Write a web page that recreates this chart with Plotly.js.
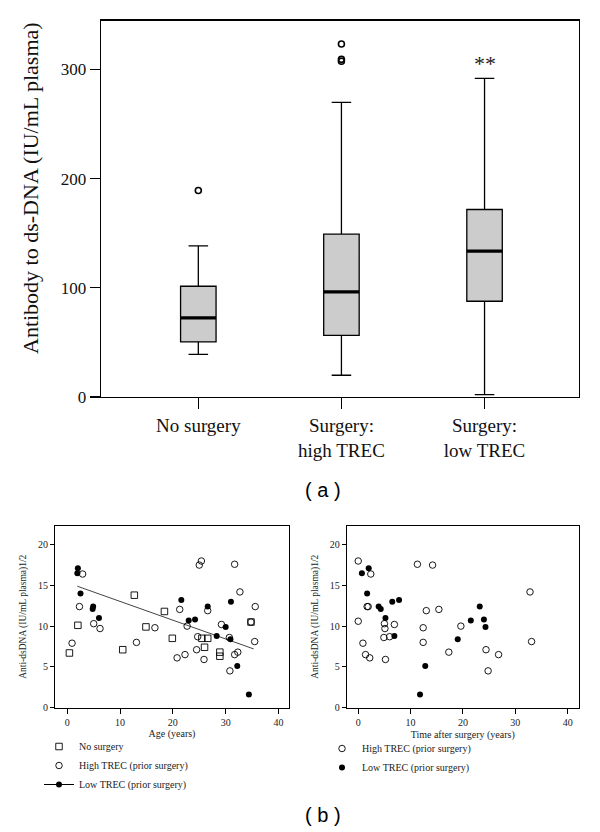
<!DOCTYPE html>
<html>
<head>
<meta charset="utf-8">
<script src="https://cdn.plot.ly/plotly-3.0.1.min.js"></script>
<style>html,body{margin:0;padding:0;background:#fff;}#chart{width:600px;height:832px;}</style>
</head>
<body>
<div id="chart"></div>
<script>
// ---------- Panel (a): box plot ----------
var groups = ['No surgery', 'Surgery:<br>high TREC', 'Surgery:<br>low TREC'];
var groupPos = [0, 1, 2];
var boxQ1 = [50.4, 56.5, 87.7];
var boxMedian = [72.4, 96.2, 133.5];
var boxQ3 = [101.4, 149.1, 171.7];
var boxLowerFence = [39.1, 19.9, 2.1];
var boxUpperFence = [138.4, 269.8, 291.8];
var outlierPos = [0, 1, 1, 1];
var outlierVal = [189.1, 323.2, 309.2, 307.4];
var boxTicks = [0, 100, 200, 300];

// ---------- Panel (b): scatter plots ----------
var ageNoSurgery = [0.4, 2.0, 10.5, 12.7, 14.9, 18.4, 19.9, 25.5, 26.6, 26.0, 28.9, 28.9, 34.8];
var dnaNoSurgery = [6.7, 10.1, 7.1, 13.8, 9.9, 11.8, 8.5, 8.5, 8.5, 7.4, 6.8, 6.3, 10.5];

var ageHigh = [2.9, 2.3, 0.9, 5.0, 6.2, 13.1, 16.6, 21.3, 20.8, 22.3, 22.7, 24.5, 24.7, 25.0, 25.4, 25.9, 26.6, 29.2, 30.7, 30.8, 31.7, 31.7, 32.3, 32.7, 34.8, 35.6, 35.5];
var dnaHighByAge = [16.4, 12.4, 7.9, 10.3, 9.7, 8.0, 9.8, 12.05, 6.1, 6.5, 10.0, 7.1, 8.7, 17.5, 18.0, 5.9, 11.9, 10.2, 8.6, 4.5, 6.5, 17.6, 6.8, 14.2, 10.5, 12.4, 8.1];

var timeHigh = [0.0, 0.0, 0.9, 1.4, 1.7, 1.9, 2.2, 2.4, 5.0, 5.1, 4.9, 5.2, 6.0, 6.9, 11.3, 12.4, 12.4, 13.0, 14.2, 15.4, 17.3, 19.6, 24.4, 24.8, 26.8, 32.8, 33.1];
var dnaHighByTime = [18.0, 10.6, 7.9, 6.5, 12.4, 12.4, 6.1, 16.4, 10.3, 9.7, 8.6, 5.9, 8.7, 10.2, 17.6, 9.8, 8.0, 11.9, 17.5, 12.05, 6.8, 10.0, 7.1, 4.5, 6.5, 14.2, 8.1];

var ageLow = [2.0, 1.9, 2.5, 4.9, 4.8, 6.0, 21.6, 23.0, 24.2, 26.6, 28.3, 30.0, 31.0, 30.9, 32.2, 34.4];
var timeLow = [2.0, 0.7, 1.7, 3.9, 4.3, 5.2, 7.8, 21.5, 24.0, 23.2, 6.9, 24.3, 6.5, 19.0, 12.8, 11.8];
var dnaLow = [17.1, 16.5, 14.0, 12.4, 12.1, 11.0, 13.2, 10.7, 10.8, 12.4, 8.8, 9.9, 13.0, 8.4, 5.1, 1.6];

var fitAge = [1.9, 35.3];
var fitDna = [14.9, 7.2];

var scatterTicksX = [0, 10, 20, 30, 40];
var scatterTicksY = [0, 5, 10, 15, 20];

// ---------- build ----------
var SERIF = 'Liberation Serif, Times New Roman, serif';
var SANS = 'Liberation Sans, Arial, sans-serif';
var boxWidth = 0.248;

var medX = [], medY = [];
groupPos.forEach(function (p, i) {
  medX.push(p - boxWidth / 2, p + boxWidth / 2, null);
  medY.push(boxMedian[i], boxMedian[i], null);
});

// interleave nulls so the legend shows a line through the marker but no segments are drawn
function gapped(arr) { var o = []; arr.forEach(function (v) { o.push(v, null); }); return o; }

var openMarker = function (sym) {
  return {symbol: sym, size: 6.5, color: '#000', line: {width: 0.9, color: '#000'}};
};

var traces = [
  {
    type: 'box', x: groupPos, q1: boxQ1, median: boxMedian, q3: boxQ3,
    lowerfence: boxLowerFence, upperfence: boxUpperFence,
    width: boxWidth, whiskerwidth: 0.55, boxpoints: false,
    fillcolor: '#cccccc', line: {color: '#000', width: 1.3},
    xaxis: 'x', yaxis: 'y', showlegend: false, hoverinfo: 'skip'
  },
  {
    type: 'scatter', mode: 'lines', x: medX, y: medY,
    line: {color: '#000', width: 3.2}, xaxis: 'x', yaxis: 'y', showlegend: false, hoverinfo: 'skip'
  },
  {
    type: 'scatter', mode: 'markers', x: outlierPos, y: outlierVal,
    marker: {symbol: 'circle-open', size: 6, color: '#000', line: {width: 1.6, color: '#000'}},
    xaxis: 'x', yaxis: 'y', showlegend: false, hoverinfo: 'skip'
  },
  // left scatter: age
  {
    type: 'scatter', mode: 'lines', x: fitAge, y: fitDna,
    line: {color: '#444', width: 1}, xaxis: 'x2', yaxis: 'y2', showlegend: false, hoverinfo: 'skip'
  },
  {
    type: 'scatter', mode: 'markers', name: 'No surgery', x: ageNoSurgery, y: dnaNoSurgery,
    marker: openMarker('square-open'), xaxis: 'x2', yaxis: 'y2', legend: 'legend'
  },
  {
    type: 'scatter', mode: 'markers', name: 'High TREC (prior surgery)', x: ageHigh, y: dnaHighByAge,
    marker: openMarker('circle-open'), xaxis: 'x2', yaxis: 'y2', legend: 'legend'
  },
  {
    type: 'scatter', mode: 'lines+markers', name: 'Low TREC (prior surgery)', x: gapped(ageLow), y: gapped(dnaLow),
    connectgaps: false, line: {color: '#000', width: 1},
    marker: {symbol: 'circle', size: 6, color: '#000'},
    xaxis: 'x2', yaxis: 'y2', legend: 'legend'
  },
  // right scatter: time after surgery
  {
    type: 'scatter', mode: 'markers', name: 'High TREC (prior surgery)', x: timeHigh, y: dnaHighByTime,
    marker: openMarker('circle-open'), xaxis: 'x3', yaxis: 'y3', legend: 'legend2'
  },
  {
    type: 'scatter', mode: 'markers', name: 'Low TREC (prior surgery)', x: timeLow, y: dnaLow,
    marker: {symbol: 'circle', size: 6, color: '#000'},
    xaxis: 'x3', yaxis: 'y3', legend: 'legend2'
  }
];

function frameAxis(extra) {
  var a = {
    showline: true, mirror: true, linecolor: '#000', linewidth: 1,
    showgrid: false, zeroline: false, ticks: 'outside', tickcolor: '#000',
    tickfont: {family: SERIF, size: 10, color: '#222'}, fixedrange: true
  };
  for (var k in extra) a[k] = extra[k];
  return a;
}

var scatterYTitle = 'Anti-dsDNA (IU/mL plasma)1/2';

var layout = {
  width: 600, height: 832,
  margin: {l: 0, r: 0, t: 0, b: 0},
  paper_bgcolor: '#fff', plot_bgcolor: '#fff',
  font: {family: SERIF, color: '#000'},
  xaxis: frameAxis({
    anchor: 'y',
    domain: [101 / 600, 579 / 600], range: [-0.68, 2.66],
    tickmode: 'array', tickvals: groupPos, ticktext: groups,
    ticklen: 11, tickwidth: 1.3, linewidth: 1.3,
    tickfont: {family: SERIF, size: 19, color: '#111'}
  }),
  yaxis: frameAxis({
    anchor: 'x',
    domain: [1 - 397 / 832, 1 - 20.7 / 832], range: [0, 344.6],
    tickmode: 'array', tickvals: boxTicks,
    ticklen: 10, tickwidth: 1.3, linewidth: 1.3,
    tickfont: {family: SERIF, size: 17, color: '#111'}
  }),
  xaxis2: frameAxis({
    anchor: 'y2',
    domain: [55 / 600, 289 / 600], range: [-2.33, 42],
    tickmode: 'array', tickvals: scatterTicksX, ticklen: 5,
    title: {text: 'Age (years)', font: {family: SERIF, size: 10, color: '#222'}, standoff: 3}
  }),
  yaxis2: frameAxis({
    anchor: 'x2',
    domain: [1 - 707.5 / 832, 1 - 526 / 832], range: [0, 22.3],
    tickmode: 'array', tickvals: scatterTicksY, ticklen: 4,
    title: {text: scatterYTitle, font: {family: SERIF, size: 9.5, color: '#222'}, standoff: 9}
  }),
  xaxis3: frameAxis({
    anchor: 'y3',
    domain: [346.7 / 600, 578.7 / 600], range: [-2.2, 42.1],
    tickmode: 'array', tickvals: scatterTicksX, ticklen: 5,
    title: {text: 'Time after surgery (years)', font: {family: SERIF, size: 10, color: '#222'}, standoff: 4}
  }),
  yaxis3: frameAxis({
    anchor: 'x3',
    domain: [1 - 707.5 / 832, 1 - 526 / 832], range: [0, 22.3],
    tickmode: 'array', tickvals: scatterTicksY, ticklen: 4,
    title: {text: scatterYTitle, font: {family: SERIF, size: 9.5, color: '#222'}, standoff: 9}
  }),
  legend: {
    x: 39 / 600, xanchor: 'left', y: 1 - 732 / 832, yanchor: 'top',
    bgcolor: 'rgba(0,0,0,0)', borderwidth: 0, itemwidth: 30,
    font: {family: SERIF, size: 10, color: '#222'}, tracegroupgap: 0
  },
  legend2: {
    x: 322 / 600, xanchor: 'left', y: 1 - 734 / 832, yanchor: 'top',
    bgcolor: 'rgba(0,0,0,0)', borderwidth: 0, itemwidth: 30,
    font: {family: SERIF, size: 10, color: '#222'}, tracegroupgap: 0
  },
  annotations: [
    {text: 'Antibody to ds-DNA (IU/mL plasma)', textangle: -90,
     x: 31 / 600, y: 1 - 188 / 832, xref: 'paper', yref: 'paper',
     xanchor: 'center', yanchor: 'middle', showarrow: false,
     font: {family: SERIF, size: 22, color: '#111'}},
    {text: '**', x: 2, y: 305, xref: 'x', yref: 'y', xanchor: 'center', yanchor: 'middle', showarrow: false,
     font: {family: SERIF, size: 22, color: '#222'}},
    {text: '( a )', x: 322.5 / 600, y: 1 - 490 / 832, xref: 'paper', yref: 'paper',
     xanchor: 'center', yanchor: 'middle', showarrow: false,
     font: {family: SANS, size: 20, color: '#000'}},
    {text: '( b )', x: 323 / 600, y: 1 - 815 / 832, xref: 'paper', yref: 'paper',
     xanchor: 'center', yanchor: 'middle', showarrow: false,
     font: {family: SANS, size: 20, color: '#000'}}
  ],
  showlegend: true
};

Plotly.newPlot('chart', traces, layout, {staticPlot: true, displayModeBar: false});
</script>
</body>
</html>
